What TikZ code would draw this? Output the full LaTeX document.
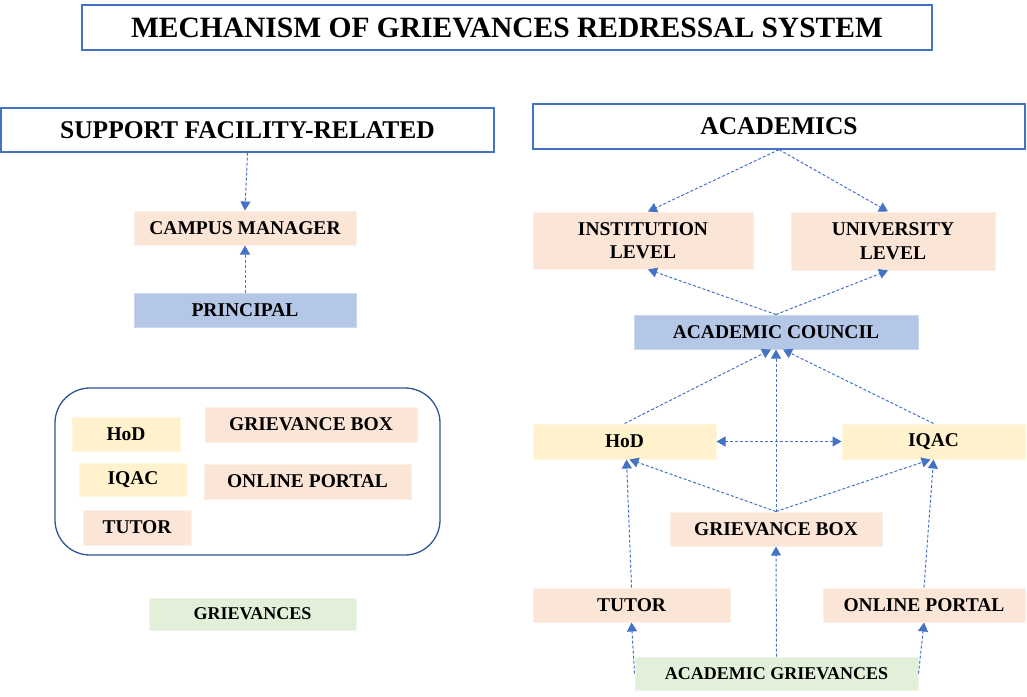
\documentclass[tikz,border=0pt]{standalone}
\usepackage{fontspec}
\setmainfont{Liberation Serif}
\usetikzlibrary{arrows.meta,calc}
\definecolor{peach}{HTML}{FBE5D6}
\definecolor{peachline}{HTML}{FDF0E7}
\definecolor{lblue}{HTML}{B4C7E7}
\definecolor{lblueline}{HTML}{C9D7EF}
\definecolor{lyellow}{HTML}{FFF2CC}
\definecolor{lyellowline}{HTML}{FFF7E0}
\definecolor{lgreen}{HTML}{E2F0D9}
\definecolor{lgreenline}{HTML}{EDF6E8}
\definecolor{bord}{HTML}{4472C4}
\definecolor{dbord}{HTML}{2F5597}
\tikzset{
  x=1pt, y=-1pt,
  hdr/.style={draw=bord, line width=1.2pt, fill=white, inner sep=0pt, font=\fontsize{25.5}{28}\selectfont\bfseries},
  box/.style={inner sep=0pt, line width=1pt, font=\fontsize{19.5}{23.5}\selectfont\bfseries, align=center},
  pbox/.style={box, fill=peach, draw=peachline},
  bbox/.style={box, fill=lblue, draw=lblueline},
  ybox/.style={box, fill=lyellow, draw=lyellowline},
  gbox/.style={box, fill=lgreen, draw=lgreenline, font=\fontsize{18}{21}\selectfont\bfseries},
  arr/.style={draw=bord, line width=1pt, dash pattern=on 3pt off 2pt, -{Triangle[length=9pt,width=10pt]}},
  darr/.style={arr, {Triangle[length=9pt,width=10pt]}-{Triangle[length=9pt,width=10pt]}},
}
\newcommand{\bx}[6]{\node[#1, minimum width=#4, minimum height=#5] (#2) at #3 {#6};}
\begin{document}
\begin{tikzpicture}
\useasboundingbox (0,0) rectangle (1027,696);
% headers
\node[hdr, minimum width=850, minimum height=45, font=\fontsize{29.5}{32}\selectfont\bfseries] (title) at (507,27.5) {MECHANISM OF GRIEVANCES REDRESSAL SYSTEM};
\node[hdr, minimum width=493, minimum height=44] (support) at (247.5,130) {SUPPORT FACILITY-RELATED};
\node[hdr, minimum width=492, minimum height=45] (acad) at (779,126.5) {ACADEMICS};
% left side
\bx{pbox}{campus}{(245,228)}{222}{34}{CAMPUS MANAGER}
\bx{bbox}{principal}{(245,310)}{222}{34}{PRINCIPAL}
\draw[dbord, line width=1.3pt, rounded corners=35] (55,388) rectangle (440,555);
\bx{ybox}{hodL}{(126,434)}{108}{34}{HoD}
\bx{ybox}{iqacL}{(133,479.5)}{108}{33}{IQAC}
\bx{pbox}{tutorL}{(137,527.5)}{108}{35}{TUTOR}
\bx{pbox}{gboxL}{(311,424.5)}{212}{35}{GRIEVANCE BOX}
\bx{pbox}{portalL}{(307.5,481.5)}{207}{35}{ONLINE PORTAL}
\bx{gbox}{grievL}{(252.5,614)}{207}{32}{GRIEVANCES}
\draw[arr] (support.south) -- (campus.north);
\draw[arr] (principal.north) -- (campus.south);
% right side
\bx{pbox}{instL}{(643,240.5)}{220}{57}{INSTITUTION\\LEVEL}
\bx{pbox}{univL}{(893,241)}{204}{58}{UNIVERSITY\\LEVEL}
\bx{bbox}{council}{(776,332)}{284}{34}{ACADEMIC COUNCIL}
\bx{ybox}{hodR}{(624.5,441.5)}{183}{35}{HoD}
\bx{ybox}{iqacR}{(933.5,441.5)}{183}{35}{IQAC}
\bx{pbox}{gboxR}{(776,529)}{212}{34}{GRIEVANCE BOX}
\bx{pbox}{tutorR}{(631.5,605)}{197}{34}{TUTOR}
\bx{pbox}{portalR}{(924,605)}{202}{34}{ONLINE PORTAL}
\bx{gbox}{acadG}{(776.5,673.5)}{283}{33}{ACADEMIC GRIEVANCES}
\draw[arr] (acad.south) -- ($(instL.north)+(5,0)$);
\draw[arr] (acad.south) -- ($(univL.north)+(-5,0)$);
\draw[arr] (council.north) -- ($(instL.south)+(5,0)$);
\draw[arr] (council.north) -- ($(univL.south)+(-5,0)$);
\draw[arr] (hodR.north) -- ($(council.south)+(-5,0)$);
\draw[arr] (iqacR.north) -- ($(council.south)+(7,0)$);
\draw[arr] (gboxR.north) -- (council.south);
\draw[darr] (hodR.east) -- (iqacR.west);
\draw[arr] (gboxR.north) -- ($(hodR.south)+(5,0)$);
\draw[arr] (gboxR.north) -- ($(iqacR.south)+(-3,0)$);
\draw[arr] (tutorR.north) -- ($(hodR.south)+(2,0)$);
\draw[arr] (portalR.north) -- (iqacR.south);
\draw[arr] (acadG.north) -- (gboxR.south);
\draw[arr] (acadG.west) -- (tutorR.south);
\draw[arr] (acadG.east) -- (portalR.south);
\end{tikzpicture}
\end{document}
